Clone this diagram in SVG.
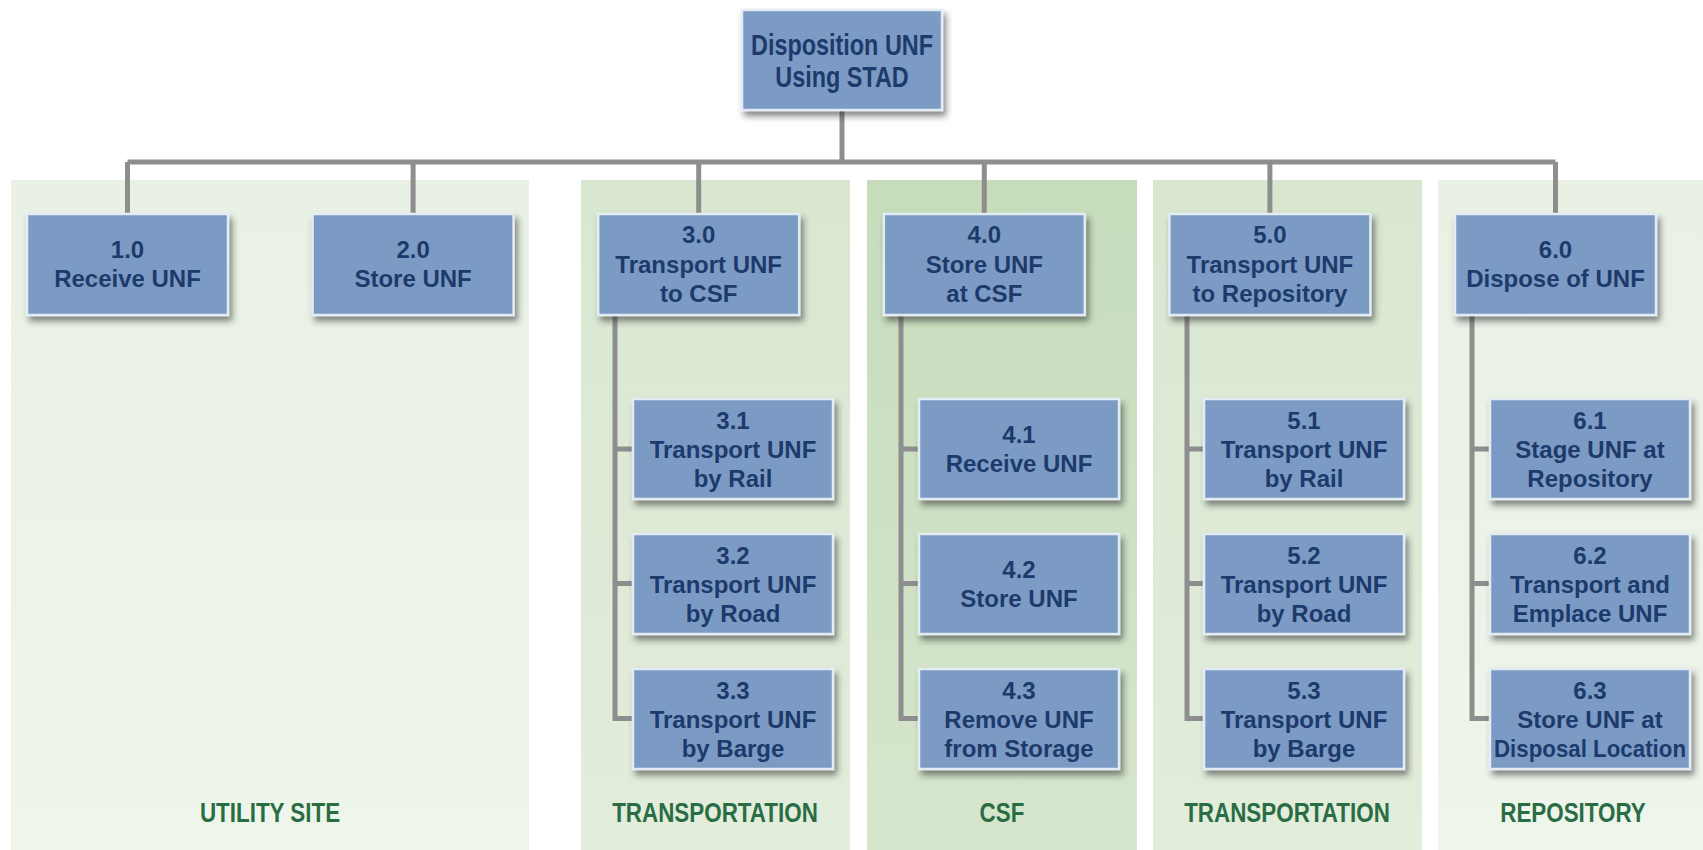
<svg xmlns="http://www.w3.org/2000/svg" width="1703" height="850" viewBox="0 0 1703 850">
  <defs>
    <filter id="shadow" x="-10%" y="-15%" width="125%" height="140%">
      <feDropShadow dx="3" dy="5" stdDeviation="3" flood-color="#2c2c2c" flood-opacity="0.55"/>
    </filter>
    <linearGradient id="zonePale" x1="0" y1="0" x2="0" y2="1">
      <stop offset="0" stop-color="#e9f1e5"/>
      <stop offset="1" stop-color="#eef5eb"/>
    </linearGradient>
    <linearGradient id="zoneMid" x1="0" y1="0" x2="0" y2="1">
      <stop offset="0" stop-color="#d9e7d1"/>
      <stop offset="1" stop-color="#e2eddb"/>
    </linearGradient>
    <linearGradient id="zoneDark" x1="0" y1="0" x2="0" y2="1">
      <stop offset="0" stop-color="#c6dcbb"/>
      <stop offset="1" stop-color="#d6e6cd"/>
    </linearGradient>
  </defs>
  <style>
    .box { fill: #7b9bc4; stroke: #e3ebf3; stroke-width: 2.5; filter: url(#shadow); }
    .txt { font-family: "Liberation Sans", Arial, sans-serif; font-weight: bold; font-size: 24px; fill: #1d3a6c; text-anchor: middle; }
    .title { font-family: "Liberation Sans", Arial, sans-serif; font-weight: bold; font-size: 30px; fill: #1d3a6c; text-anchor: middle; }
    .zlabel { font-family: "Liberation Sans", Arial, sans-serif; font-weight: bold; font-size: 28px; fill: #2a6d45; text-anchor: middle; }
    .link { fill: none; stroke: #8e8e8e; stroke-width: 5; }
  </style>

  <rect width="1703" height="850" fill="#ffffff"/>

  <!-- phase zones -->
  <g id="zones">
    <rect x="11" y="180" width="518" height="670" fill="url(#zonePale)"/>
    <rect x="581" y="180" width="269" height="670" fill="url(#zoneMid)"/>
    <rect x="867" y="180" width="270" height="670" fill="url(#zoneDark)"/>
    <rect x="1153" y="180" width="269" height="670" fill="url(#zoneMid)"/>
    <rect x="1438" y="180" width="265" height="670" fill="url(#zonePale)"/>
    <text class="zlabel" transform="translate(270 822) scale(0.8 1)">UTILITY SITE</text>
    <text class="zlabel" transform="translate(715 822) scale(0.8 1)">TRANSPORTATION</text>
    <text class="zlabel" transform="translate(1002 822) scale(0.8 1)">CSF</text>
    <text class="zlabel" transform="translate(1287 822) scale(0.8 1)">TRANSPORTATION</text>
    <text class="zlabel" transform="translate(1573 822) scale(0.8 1)">REPOSITORY</text>
  </g>

  <!-- connectors -->
  <g id="connectors">
    <path class="link" d="M842 110 V162"/>
    <path class="link" d="M127.5 162 H1555.5"/>
    <path class="link" d="M127.5 162 V214"/>
    <path class="link" d="M413.1 162 V214"/>
    <path class="link" d="M698.7 162 V214"/>
    <path class="link" d="M984.3 162 V214"/>
    <path class="link" d="M1269.9 162 V214"/>
    <path class="link" d="M1555.5 162 V214"/>
    <!-- 3.0 children -->
    <path class="link" d="M615 315 V718.5 H633 M615 449 H633 M615 583.5 H633"/>
    <!-- 4.0 children -->
    <path class="link" d="M901 315 V718.5 H919 M901 449 H919 M901 583.5 H919"/>
    <!-- 5.0 children -->
    <path class="link" d="M1187 315 V718.5 H1204 M1187 449 H1204 M1187 583.5 H1204"/>
    <!-- 6.0 children -->
    <path class="link" d="M1472 315 V718.5 H1490 M1472 449 H1490 M1472 583.5 H1490"/>
  </g>

  <!-- root -->
  <g id="node-root">
    <rect class="box" x="742" y="10" width="200" height="100"/>
    <text class="title" transform="translate(842 55) scale(0.78 1)">Disposition UNF</text>
    <text class="title" transform="translate(842 87) scale(0.78 1)">Using STAD</text>
  </g>

  <!-- level 1 -->
  <g id="node-1-0">
    <rect class="box" x="27" y="214" width="201" height="101"/>
    <text class="txt" x="127.5" y="257.5">1.0</text>
    <text class="txt" x="127.5" y="287">Receive UNF</text>
  </g>
  <g id="node-2-0">
    <rect class="box" x="312.6" y="214" width="201" height="101"/>
    <text class="txt" x="413.1" y="257.5">2.0</text>
    <text class="txt" x="413.1" y="287">Store UNF</text>
  </g>
  <g id="node-3-0">
    <rect class="box" x="598.2" y="214" width="201" height="101"/>
    <text class="txt" x="698.7" y="243">3.0</text>
    <text class="txt" x="698.7" y="273">Transport UNF</text>
    <text class="txt" x="698.7" y="302">to CSF</text>
  </g>
  <g id="node-4-0">
    <rect class="box" x="883.8" y="214" width="201" height="101"/>
    <text class="txt" x="984.3" y="243">4.0</text>
    <text class="txt" x="984.3" y="273">Store UNF</text>
    <text class="txt" x="984.3" y="302">at CSF</text>
  </g>
  <g id="node-5-0">
    <rect class="box" x="1169.4" y="214" width="201" height="101"/>
    <text class="txt" x="1269.9" y="243">5.0</text>
    <text class="txt" x="1269.9" y="273">Transport UNF</text>
    <text class="txt" x="1269.9" y="302">to Repository</text>
  </g>
  <g id="node-6-0">
    <rect class="box" x="1455" y="214" width="201" height="101"/>
    <text class="txt" x="1555.5" y="257.5">6.0</text>
    <text class="txt" x="1555.5" y="287">Dispose of UNF</text>
  </g>

  <!-- level 2: transport to CSF -->
  <g id="node-3-1">
    <rect class="box" x="633" y="399" width="200" height="100"/>
    <text class="txt" x="733" y="429">3.1</text>
    <text class="txt" x="733" y="458">Transport UNF</text>
    <text class="txt" x="733" y="487">by Rail</text>
  </g>
  <g id="node-3-2">
    <rect class="box" x="633" y="534" width="200" height="100"/>
    <text class="txt" x="733" y="564">3.2</text>
    <text class="txt" x="733" y="593">Transport UNF</text>
    <text class="txt" x="733" y="622">by Road</text>
  </g>
  <g id="node-3-3">
    <rect class="box" x="633" y="669" width="200" height="100"/>
    <text class="txt" x="733" y="699">3.3</text>
    <text class="txt" x="733" y="728">Transport UNF</text>
    <text class="txt" x="733" y="757">by Barge</text>
  </g>

  <!-- level 2: CSF -->
  <g id="node-4-1">
    <rect class="box" x="919" y="399" width="200" height="100"/>
    <text class="txt" x="1019" y="442.5">4.1</text>
    <text class="txt" x="1019" y="472">Receive UNF</text>
  </g>
  <g id="node-4-2">
    <rect class="box" x="919" y="534" width="200" height="100"/>
    <text class="txt" x="1019" y="577.5">4.2</text>
    <text class="txt" x="1019" y="607">Store UNF</text>
  </g>
  <g id="node-4-3">
    <rect class="box" x="919" y="669" width="200" height="100"/>
    <text class="txt" x="1019" y="699">4.3</text>
    <text class="txt" x="1019" y="728">Remove UNF</text>
    <text class="txt" x="1019" y="757">from Storage</text>
  </g>

  <!-- level 2: transport to repository -->
  <g id="node-5-1">
    <rect class="box" x="1204" y="399" width="200" height="100"/>
    <text class="txt" x="1304" y="429">5.1</text>
    <text class="txt" x="1304" y="458">Transport UNF</text>
    <text class="txt" x="1304" y="487">by Rail</text>
  </g>
  <g id="node-5-2">
    <rect class="box" x="1204" y="534" width="200" height="100"/>
    <text class="txt" x="1304" y="564">5.2</text>
    <text class="txt" x="1304" y="593">Transport UNF</text>
    <text class="txt" x="1304" y="622">by Road</text>
  </g>
  <g id="node-5-3">
    <rect class="box" x="1204" y="669" width="200" height="100"/>
    <text class="txt" x="1304" y="699">5.3</text>
    <text class="txt" x="1304" y="728">Transport UNF</text>
    <text class="txt" x="1304" y="757">by Barge</text>
  </g>

  <!-- level 2: repository -->
  <g id="node-6-1">
    <rect class="box" x="1490" y="399" width="200" height="100"/>
    <text class="txt" x="1590" y="429">6.1</text>
    <text class="txt" x="1590" y="458">Stage UNF at</text>
    <text class="txt" x="1590" y="487">Repository</text>
  </g>
  <g id="node-6-2">
    <rect class="box" x="1490" y="534" width="200" height="100"/>
    <text class="txt" x="1590" y="564">6.2</text>
    <text class="txt" x="1590" y="593">Transport and</text>
    <text class="txt" x="1590" y="622">Emplace UNF</text>
  </g>
  <g id="node-6-3">
    <rect class="box" x="1490" y="669" width="200" height="100"/>
    <text class="txt" x="1590" y="699">6.3</text>
    <text class="txt" x="1590" y="728">Store UNF at</text>
    <text class="txt" x="1590" y="757" textLength="192" lengthAdjust="spacingAndGlyphs">Disposal Location</text>
  </g>
</svg>
